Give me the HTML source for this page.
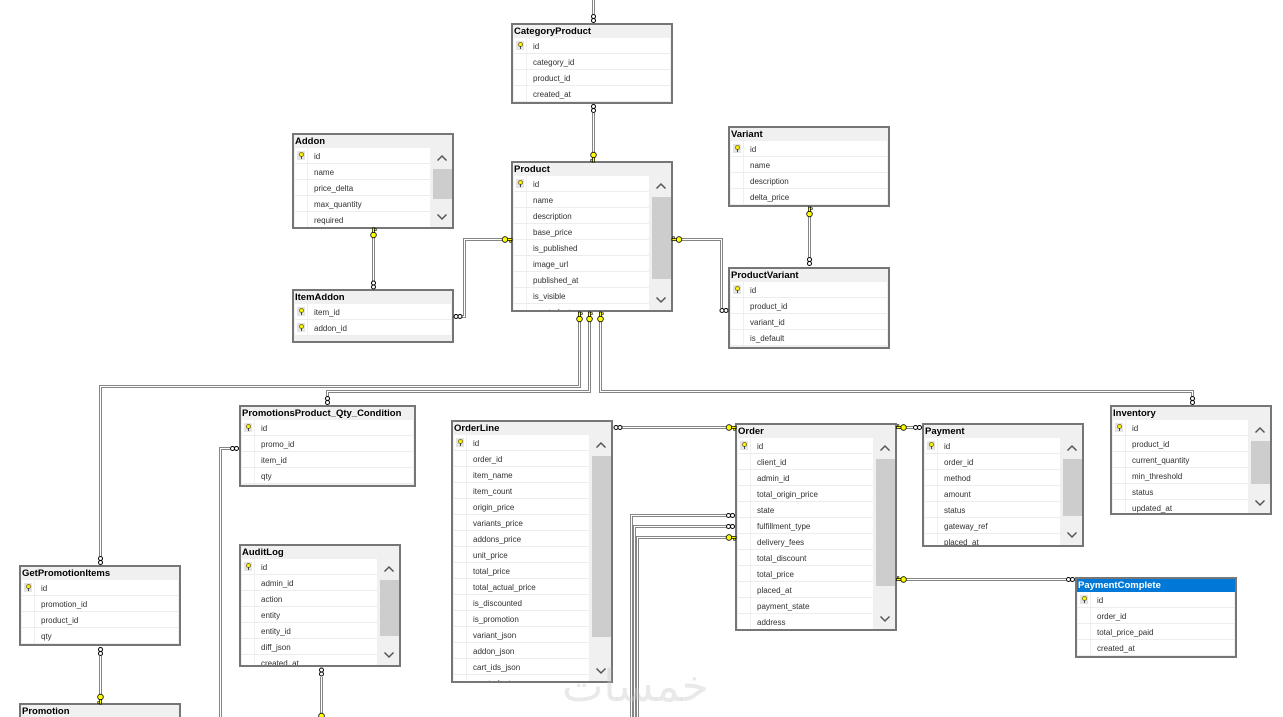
<!DOCTYPE html>
<html><head><meta charset="utf-8"><style>
*{margin:0;padding:0}
html,body{width:1283px;height:717px;overflow:hidden;background:#fff;position:relative}
.t{position:absolute;width:162px;box-sizing:border-box;border:2px solid #767676;background:#f0f0f0;overflow:hidden}
.h{height:12px;padding-top:1px;line-height:14px;font:bold 9.5px "Liberation Sans",sans-serif;color:#000;padding-left:1px;white-space:nowrap;overflow:visible}
.hb{background:#0078d7;color:#fff;margin:0 -1px;padding-left:2px}
.rs{position:absolute;top:13px;left:1px;right:1px}
.s .rs{right:22px}
.r{position:relative;height:15px;border-bottom:1px solid #ededed;background:#fff;font:8px "Liberation Sans",sans-serif;line-height:17px;color:#303030;padding-left:19px;white-space:nowrap;overflow:hidden}
.r::before{content:"";position:absolute;left:12px;top:0;width:1px;height:15px;background:#efefef}
.k{position:absolute;left:2px;top:3px;width:8px;height:9px;background:#e4e4e4}
.k::before{content:"";position:absolute;left:2px;top:1px;width:3px;height:3px;border-radius:50%;background:#ff0;border:1px solid #8a7a20}
.k::after{content:"";position:absolute;left:3.5px;top:5px;width:1px;height:3px;background:#444}
.sb{position:absolute;top:13px;right:0;bottom:0;width:20px;background:#f0f0f0}
.th{position:absolute;right:0;width:19px;top:21px;background:#cdcdcd}
.sb svg{position:absolute;left:0;width:20px;height:10px}
.up{top:5px}.dn{bottom:5px}
#wm{position:absolute;left:562px;top:661px;font:44px "DejaVu Sans",sans-serif;color:rgba(200,200,200,0.4);z-index:5;direction:rtl}
#cx{position:absolute;left:0;top:0;z-index:4}
</style></head><body>

<svg id="cx" width="1283" height="717" viewBox="0 0 1283 717">
<defs>
<g id="kR"><circle cx="3" cy="0" r="2.8" fill="#ffff00" stroke="#000" stroke-width="0.8"/><rect x="5.6" y="-1.1" width="4.4" height="2.2" fill="#ffff00" stroke="#000" stroke-width="0.7"/><rect x="7.6" y="1" width="1.6" height="1.8" fill="#ffff00" stroke="#000" stroke-width="0.6"/></g>
</defs>
<g fill="none" stroke="#858585" stroke-width="3">
<path d="M593.5 0V14"/>
<path d="M593.5 113V152"/>
<path d="M373.5 238V281"/>
<path d="M502 239.5H464.5V316.5H462"/>
<path d="M682 239.5H721.5V308"/>
<path d="M809.5 217V257"/>
<path d="M579.5 322V386.5H100.5V556"/>
<path d="M589.5 322V391.5H327.5V396"/>
<path d="M600.5 322V391.5H1192.5V396"/>
<path d="M622 427.5H726"/>
<path d="M906 427.5H913"/>
<path d="M906 579.5H1066"/>
<path d="M726 515.5H631.5V717"/>
<path d="M726 526.5H634.5V717"/>
<path d="M726 537.5H637.5V717"/>
<path d="M230 448.5H220.5V717"/>
<path d="M321.5 677V713"/>
<path d="M100.5 656V694"/>
</g>
<g fill="none" stroke="#fff" stroke-width="1">
<path d="M593.5 0V14"/>
<path d="M593.5 113V152"/>
<path d="M373.5 238V281"/>
<path d="M502 239.5H464.5V316.5H462"/>
<path d="M682 239.5H721.5V308"/>
<path d="M809.5 217V257"/>
<path d="M579.5 322V386.5H100.5V556"/>
<path d="M589.5 322V391.5H327.5V396"/>
<path d="M600.5 322V391.5H1192.5V396"/>
<path d="M622 427.5H726"/>
<path d="M906 427.5H913"/>
<path d="M906 579.5H1066"/>
<path d="M726 515.5H631.5V717"/>
<path d="M726 526.5H634.5V717"/>
<path d="M726 537.5H637.5V717"/>
<path d="M230 448.5H220.5V717"/>
<path d="M321.5 677V713"/>
<path d="M100.5 656V694"/>
</g>
<g fill="#fff" stroke="#000" stroke-width="1">
<circle cx="593.5" cy="16.5" r="2"/><circle cx="593.5" cy="20.5" r="2"/>
<circle cx="593.5" cy="106.5" r="2"/><circle cx="593.5" cy="110.5" r="2"/>
<circle cx="373.5" cy="283" r="2"/><circle cx="373.5" cy="287" r="2"/>
<circle cx="456" cy="316.5" r="2"/><circle cx="460" cy="316.5" r="2"/>
<circle cx="722" cy="310.5" r="2"/><circle cx="726" cy="310.5" r="2"/>
<circle cx="809.5" cy="259.5" r="2"/><circle cx="809.5" cy="263.5" r="2"/>
<circle cx="100.5" cy="558.5" r="2"/><circle cx="100.5" cy="562.5" r="2"/>
<circle cx="327.5" cy="398.5" r="2"/><circle cx="327.5" cy="402.5" r="2"/>
<circle cx="1192.5" cy="398.5" r="2"/><circle cx="1192.5" cy="402.5" r="2"/>
<circle cx="616" cy="427.5" r="2"/><circle cx="620" cy="427.5" r="2"/>
<circle cx="915.5" cy="427.5" r="2"/><circle cx="919.5" cy="427.5" r="2"/>
<circle cx="1068.5" cy="579.5" r="2"/><circle cx="1072.5" cy="579.5" r="2"/>
<circle cx="728.5" cy="515.5" r="2"/><circle cx="732.5" cy="515.5" r="2"/>
<circle cx="728.5" cy="526.5" r="2"/><circle cx="732.5" cy="526.5" r="2"/>
<circle cx="232.5" cy="448.5" r="2"/><circle cx="236.5" cy="448.5" r="2"/>
<circle cx="321.5" cy="670" r="2"/><circle cx="321.5" cy="674" r="2"/>
<circle cx="100.5" cy="649.5" r="2"/><circle cx="100.5" cy="653.5" r="2"/>
</g>
<use href="#kR" transform="translate(593.5,152) rotate(90)"/>
<use href="#kR" transform="translate(373.5,238) rotate(-90)"/>
<use href="#kR" transform="translate(502,239.5)"/>
<use href="#kR" transform="translate(682,239.5) rotate(180)"/>
<use href="#kR" transform="translate(809.5,217) rotate(-90)"/>
<use href="#kR" transform="translate(579.5,322) rotate(-90)"/>
<use href="#kR" transform="translate(589.5,322) rotate(-90)"/>
<use href="#kR" transform="translate(600.5,322) rotate(-90)"/>
<use href="#kR" transform="translate(726,427.5)"/>
<use href="#kR" transform="translate(906.5,427.5) rotate(180)"/>
<use href="#kR" transform="translate(906.5,579.5) rotate(180)"/>
<use href="#kR" transform="translate(726,537.5)"/>
<use href="#kR" transform="translate(321.5,713) rotate(90)"/>
<use href="#kR" transform="translate(100.5,694) rotate(90)"/>
</svg>

<!-- CategoryProduct -->
<div class="t" style="left:511px;top:23px;height:81px"><div class="h">CategoryProduct</div><div class="rs">
<div class="r"><i class="k"></i>id</div><div class="r">category_id</div><div class="r">product_id</div><div class="r">created_at</div>
</div></div>

<!-- Product -->
<div class="t s" style="left:511px;top:161px;height:151px"><div class="h">Product</div><div class="rs">
<div class="r"><i class="k"></i>id</div><div class="r">name</div><div class="r">description</div><div class="r">base_price</div><div class="r">is_published</div><div class="r">image_url</div><div class="r">published_at</div><div class="r">is_visible</div><div class="r">created_at</div>
</div><div class="sb"><div class="th" style="height:82px"></div>
<svg class="up" viewBox="0 0 20 10"><polyline points="5.5,7.5 10,3 14.5,7.5" fill="none" stroke="#555" stroke-width="1.5"/></svg>
<svg class="dn" viewBox="0 0 20 10"><polyline points="5.5,2.5 10,7 14.5,2.5" fill="none" stroke="#555" stroke-width="1.5"/></svg></div></div>

<!-- Addon -->
<div class="t s" style="left:292px;top:133px;height:96px"><div class="h">Addon</div><div class="rs">
<div class="r"><i class="k"></i>id</div><div class="r">name</div><div class="r">price_delta</div><div class="r">max_quantity</div><div class="r">required</div>
</div><div class="sb"><div class="th" style="height:30px"></div>
<svg class="up" viewBox="0 0 20 10"><polyline points="5.5,7.5 10,3 14.5,7.5" fill="none" stroke="#555" stroke-width="1.5"/></svg>
<svg class="dn" viewBox="0 0 20 10"><polyline points="5.5,2.5 10,7 14.5,2.5" fill="none" stroke="#555" stroke-width="1.5"/></svg></div></div>

<!-- ItemAddon -->
<div class="t" style="left:292px;top:289px;height:54px"><div class="h">ItemAddon</div><div class="rs">
<div class="r"><i class="k"></i>item_id</div><div class="r"><i class="k"></i>addon_id</div>
</div></div>

<!-- Variant -->
<div class="t" style="left:728px;top:126px;height:81px"><div class="h">Variant</div><div class="rs">
<div class="r"><i class="k"></i>id</div><div class="r">name</div><div class="r">description</div><div class="r">delta_price</div>
</div></div>

<!-- ProductVariant -->
<div class="t" style="left:728px;top:267px;height:82px"><div class="h">ProductVariant</div><div class="rs">
<div class="r"><i class="k"></i>id</div><div class="r">product_id</div><div class="r">variant_id</div><div class="r">is_default</div>
</div></div>

<!-- PromotionsProduct_Qty_Condition -->
<div class="t" style="left:239px;top:405px;width:177px;height:82px"><div class="h">PromotionsProduct_Qty_Condition</div><div class="rs">
<div class="r"><i class="k"></i>id</div><div class="r">promo_id</div><div class="r">item_id</div><div class="r">qty</div>
</div></div>

<!-- AuditLog -->
<div class="t s" style="left:239px;top:544px;height:123px"><div class="h">AuditLog</div><div class="rs">
<div class="r"><i class="k"></i>id</div><div class="r">admin_id</div><div class="r">action</div><div class="r">entity</div><div class="r">entity_id</div><div class="r">diff_json</div><div class="r">created_at</div>
</div><div class="sb"><div class="th" style="height:56px"></div>
<svg class="up" viewBox="0 0 20 10"><polyline points="5.5,7.5 10,3 14.5,7.5" fill="none" stroke="#555" stroke-width="1.5"/></svg>
<svg class="dn" viewBox="0 0 20 10"><polyline points="5.5,2.5 10,7 14.5,2.5" fill="none" stroke="#555" stroke-width="1.5"/></svg></div></div>

<!-- GetPromotionItems -->
<div class="t" style="left:19px;top:565px;height:81px"><div class="h">GetPromotionItems</div><div class="rs">
<div class="r"><i class="k"></i>id</div><div class="r">promotion_id</div><div class="r">product_id</div><div class="r">qty</div>
</div></div>

<!-- Promotion -->
<div class="t" style="left:19px;top:703px;height:40px"><div class="h">Promotion</div><div class="rs">
<div class="r"><i class="k"></i>id</div><div class="r">name</div>
</div></div>

<!-- OrderLine -->
<div class="t s" style="left:451px;top:420px;height:263px"><div class="h">OrderLine</div><div class="rs">
<div class="r"><i class="k"></i>id</div><div class="r">order_id</div><div class="r">item_name</div><div class="r">item_count</div><div class="r">origin_price</div><div class="r">variants_price</div><div class="r">addons_price</div><div class="r">unit_price</div><div class="r">total_price</div><div class="r">total_actual_price</div><div class="r">is_discounted</div><div class="r">is_promotion</div><div class="r">variant_json</div><div class="r">addon_json</div><div class="r">cart_ids_json</div><div class="r">created_at</div>
</div><div class="sb"><div class="th" style="height:181px"></div>
<svg class="up" viewBox="0 0 20 10"><polyline points="5.5,7.5 10,3 14.5,7.5" fill="none" stroke="#555" stroke-width="1.5"/></svg>
<svg class="dn" viewBox="0 0 20 10"><polyline points="5.5,2.5 10,7 14.5,2.5" fill="none" stroke="#555" stroke-width="1.5"/></svg></div></div>

<!-- Order -->
<div class="t s" style="left:735px;top:423px;height:208px"><div class="h">Order</div><div class="rs">
<div class="r"><i class="k"></i>id</div><div class="r">client_id</div><div class="r">admin_id</div><div class="r">total_origin_price</div><div class="r">state</div><div class="r">fulfillment_type</div><div class="r">delivery_fees</div><div class="r">total_discount</div><div class="r">total_price</div><div class="r">placed_at</div><div class="r">payment_state</div><div class="r">address</div>
</div><div class="sb"><div class="th" style="height:127px"></div>
<svg class="up" viewBox="0 0 20 10"><polyline points="5.5,7.5 10,3 14.5,7.5" fill="none" stroke="#555" stroke-width="1.5"/></svg>
<svg class="dn" viewBox="0 0 20 10"><polyline points="5.5,2.5 10,7 14.5,2.5" fill="none" stroke="#555" stroke-width="1.5"/></svg></div></div>

<!-- Payment -->
<div class="t s" style="left:922px;top:423px;height:124px"><div class="h">Payment</div><div class="rs">
<div class="r"><i class="k"></i>id</div><div class="r">order_id</div><div class="r">method</div><div class="r">amount</div><div class="r">status</div><div class="r">gateway_ref</div><div class="r">placed_at</div>
</div><div class="sb"><div class="th" style="height:57px"></div>
<svg class="up" viewBox="0 0 20 10"><polyline points="5.5,7.5 10,3 14.5,7.5" fill="none" stroke="#555" stroke-width="1.5"/></svg>
<svg class="dn" viewBox="0 0 20 10"><polyline points="5.5,2.5 10,7 14.5,2.5" fill="none" stroke="#555" stroke-width="1.5"/></svg></div></div>

<!-- Inventory -->
<div class="t s" style="left:1110px;top:405px;height:110px"><div class="h">Inventory</div><div class="rs">
<div class="r"><i class="k"></i>id</div><div class="r">product_id</div><div class="r">current_quantity</div><div class="r">min_threshold</div><div class="r">status</div><div class="r">updated_at</div>
</div><div class="sb"><div class="th" style="height:43px"></div>
<svg class="up" viewBox="0 0 20 10"><polyline points="5.5,7.5 10,3 14.5,7.5" fill="none" stroke="#555" stroke-width="1.5"/></svg>
<svg class="dn" viewBox="0 0 20 10"><polyline points="5.5,2.5 10,7 14.5,2.5" fill="none" stroke="#555" stroke-width="1.5"/></svg></div></div>

<!-- PaymentComplete -->
<div class="t" style="left:1075px;top:577px;height:81px"><div class="h hb">PaymentComplete</div><div class="rs">
<div class="r"><i class="k"></i>id</div><div class="r">order_id</div><div class="r">total_price_paid</div><div class="r">created_at</div>
</div></div>

<div id="wm">خمسات</div>
</body></html>
